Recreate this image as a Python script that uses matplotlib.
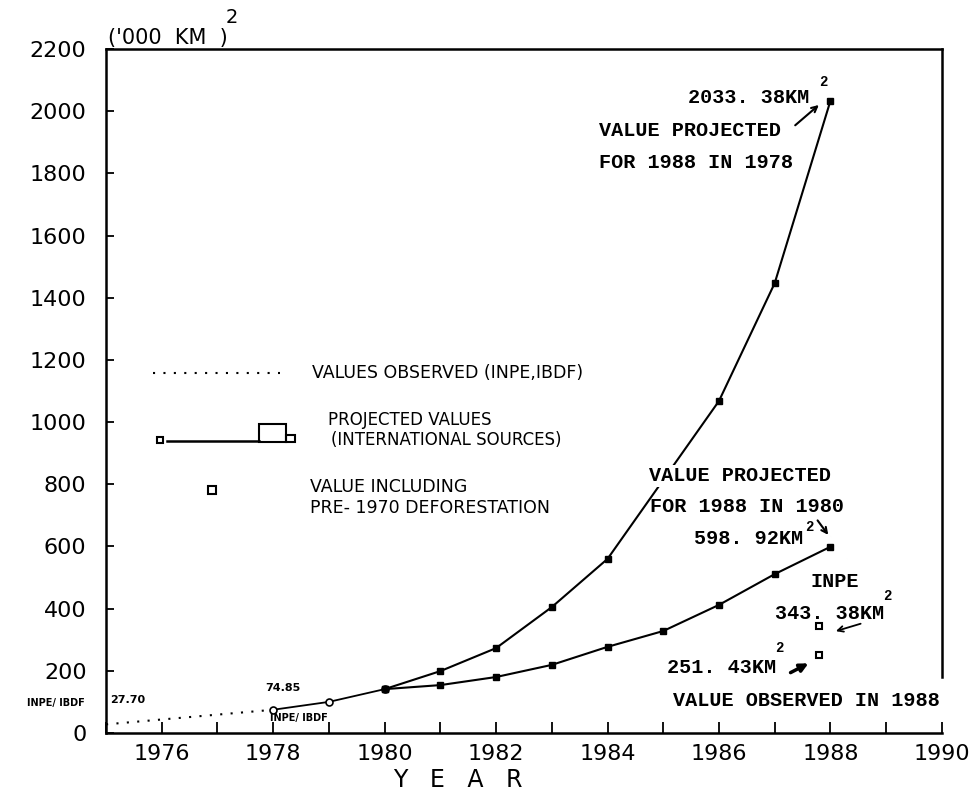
import matplotlib
matplotlib.use("Agg")
import matplotlib.pyplot as plt
from matplotlib.patches import Rectangle

# observed (INPE, IBDF)
obs_dot_years = [1975, 1978]
obs_dot_vals = [27.70, 74.65]
obs_years = [1978, 1979, 1980]
obs_vals = [74.65, 100, 141]

# projected for 1988 in 1978
proj78_years = [1980, 1981, 1982, 1983, 1984, 1986, 1987, 1988]
proj78_vals = [141, 199, 273, 405, 560, 1068, 1447, 2033.38]

# projected for 1988 in 1980
proj80_years = [1980, 1981, 1982, 1983, 1984, 1985, 1986, 1987, 1988]
proj80_vals = [141, 154, 180, 219, 277, 328, 412, 511, 598.92]

# INPE 1988 observations
inpe_years = [1987.8, 1987.8]
inpe_vals = [343.38, 251.43]

x_ticks = list(range(1976, 1991, 2))
y_ticks = list(range(0, 2201, 200))

SERIF = "Liberation Mono"

fig = plt.figure(figsize=(9.73, 7.98), dpi=100)
ax = fig.add_axes([0.109, 0.0815, 0.859, 0.857])

ax.plot(obs_dot_years, obs_dot_vals, color="black", lw=1.5, linestyle=(0, (1, 4)))
ax.plot(obs_years, obs_vals, color="black", lw=1.3, marker="o", ms=5,
        mfc="white", mec="black", mew=1.2)
ax.plot(proj78_years, proj78_vals, color="black", lw=1.5, marker="s", ms=5)
ax.plot(proj80_years, proj80_vals, color="black", lw=1.5, marker="s", ms=5)
ax.plot(inpe_years, inpe_vals, linestyle="none", marker="s", ms=5,
        mfc="white", mec="black", mew=1.5)

ax.set_xlim(1975, 1990)
ax.set_ylim(0, 2200)
ax.set_xticks(range(1975, 1991), minor=True)
ax.set_xticks(x_ticks)
ax.set_yticks(y_ticks)
ax.tick_params(axis="both", which="both", direction="in", width=1.3, colors="black")
ax.tick_params(axis="x", which="both", length=8, pad=8, labelsize=16)
ax.tick_params(axis="y", length=6, pad=14, labelsize=16)
for s in ax.spines.values():
    s.set_linewidth(1.8)
ax.spines["right"].set_bounds(180, 2200)

# unit label
ax.text(1975.03, 2235, "('000  KM  )", fontsize=15, ha="left", va="center", clip_on=False)
ax.text(1977.26, 2300, "2", fontsize=14, ha="center", va="center", clip_on=False)

# legend drawn by hand
ax.plot([1975.85, 1978.13], [1158, 1158], color="black", lw=1.5, linestyle=(0, (1, 4)))
ax.text(1978.7, 1158, "VALUES OBSERVED (INPE,IBDF)", fontsize=12.5, va="center")
ax.plot([1976.09, 1977.74], [940, 940], color="black", lw=1.8)
ax.plot([1975.97], [944], marker="s", ms=5, mfc="white", mec="black", mew=1.5)
ax.add_patch(Rectangle((1977.74, 937), 0.49, 57, fill=False, lw=1.5, ec="black"))
ax.add_patch(Rectangle((1978.23, 937), 0.16, 22, fill=False, lw=1.5, ec="black"))
ax.text(1978.99, 1008, "PROJECTED VALUES", fontsize=12, va="center")
ax.text(1979.04, 944, "(INTERNATIONAL SOURCES)", fontsize=12, va="center")
ax.plot([1976.9], [781], marker="s", ms=6, mfc="white", mec="black", mew=1.5)
ax.text(1978.66, 792, "VALUE INCLUDING", fontsize=12.5, va="center")
ax.text(1978.66, 725, "PRE- 1970 DEFORESTATION", fontsize=12.5, va="center")

# annotations (typewriter style)
tw = dict(family=SERIF, fontweight="bold", fontsize=14.5, va="center")
sup = dict(family=SERIF, fontweight="bold", fontsize=10, ha="center", va="center")
ax.text(1987.62, 2045, "2033. 38KM", ha="right", **tw)
ax.text(1987.87, 2094, "2", **sup)
ax.text(1983.84, 1939, "VALUE PROJECTED", ha="left", **tw)
ax.text(1983.84, 1836, "FOR 1988 IN 1978", ha="left", **tw)
ax.annotate("", xy=(1987.83, 2026), xytext=(1987.33, 1949),
            arrowprops=dict(arrowstyle="->", color="black", lw=1.5))

ax.text(1984.74, 827, "VALUE PROJECTED", ha="left",
        bbox=dict(fc="white", ec="none", pad=1), **tw)
ax.text(1984.76, 730, "FOR 1988 IN 1980", ha="left", **tw)
ax.annotate("", xy=(1987.99, 630), xytext=(1987.74, 691),
            arrowprops=dict(arrowstyle="->", color="black", lw=1.5))
ax.text(1987.51, 627, "598. 92KM", ha="right", **tw)
ax.text(1987.62, 662, "2", **sup)

ax.text(1987.65, 486, "INPE", ha="left", **tw)
ax.text(1988.97, 383, "343. 38KM", ha="right", **tw)
ax.text(1989.02, 440, "2", **sup)
ax.annotate("", xy=(1988.05, 325), xytext=(1988.59, 354),
            arrowprops=dict(arrowstyle="->", color="black", lw=1.3))
ax.text(1987.03, 209, "251. 43KM", ha="right", **tw)
ax.text(1987.08, 273, "2", **sup)
ax.annotate("", xy=(1987.65, 228), xytext=(1987.24, 190),
            arrowprops=dict(arrowstyle="-|>", color="black", lw=2.5, mutation_scale=12))
ax.text(1985.17, 106, "VALUE OBSERVED IN 1988", ha="left", clip_on=False, **tw)

# small source labels
ax.text(1974.62, 96, "INPE/ IBDF", ha="right", va="center", fontsize=7,
        fontweight="bold", clip_on=False)
ax.text(1975.07, 106, "27.70", ha="left", va="center", fontsize=8, fontweight="bold")
ax.text(1977.85, 145, "74.85", ha="left", va="center", fontsize=8, fontweight="bold")
ax.text(1977.94, 48, "INPE/ IBDF", ha="left", va="center", fontsize=7, fontweight="bold")

fig.text(0.471, 0.0226, "Y   E   A   R", ha="center", va="center", fontsize=17)

fig.savefig("out.png", dpi=100)
